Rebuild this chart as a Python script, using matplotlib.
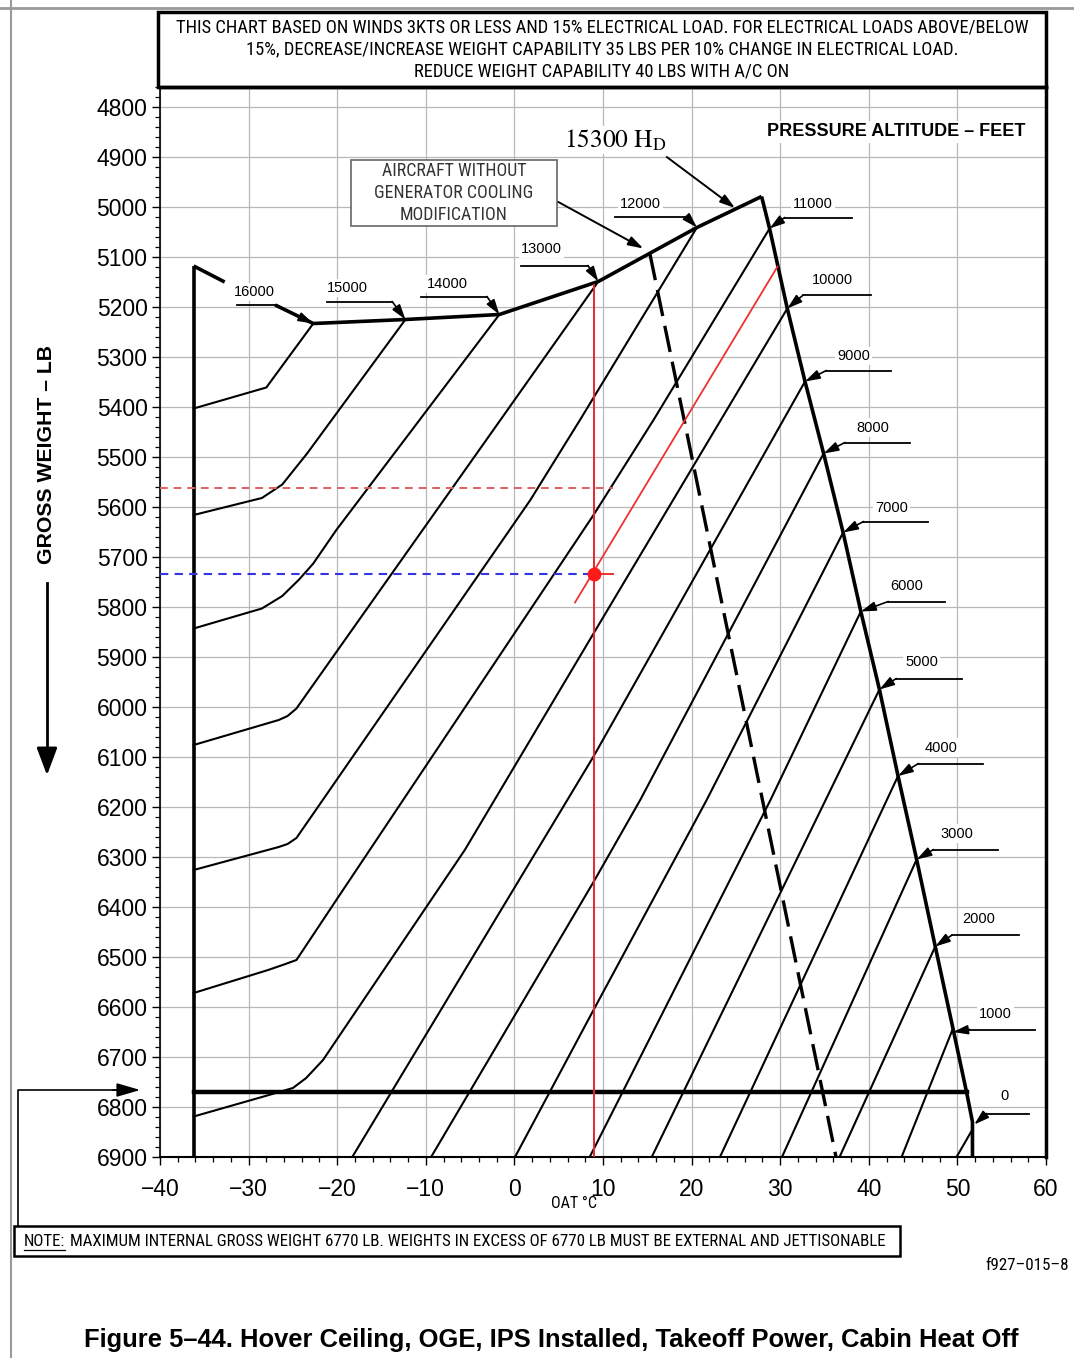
import matplotlib
matplotlib.use('Agg')
import matplotlib.pyplot as plt
from matplotlib import font_manager as fm
from matplotlib.patches import Rectangle, FancyArrowPatch
from matplotlib.lines import Line2D
from matplotlib.ticker import MultipleLocator

plt.rcParams['font.family'] = ['Liberation Sans', 'DejaVu Sans']

# pick a narrow sans face if one is installed
_fonts = {(f.name, f.stretch) for f in fm.fontManager.ttflist}
_names = {n for n, s in _fonts}
if 'Liberation Sans Narrow' in _names:
    NARROW = dict(family='Liberation Sans Narrow')
elif 'Roboto Condensed' in _names:
    NARROW = dict(family='Roboto Condensed')
elif ('DejaVu Sans', 'condensed') in _fonts:
    NARROW = dict(family='DejaVu Sans', stretch='condensed')
else:
    NARROW = dict(family='Liberation Sans')

# ---------------- data (OAT in deg C, gross weight in lb) ----------------
x_ticks = list(range(-40, 61, 10))
y_ticks = list(range(4800, 6901, 100))

altitudes = [16000, 15000, 14000, 13000, 12000, 11000, 10000, 9000, 8000,
             7000, 6000, 5000, 4000, 3000, 2000, 1000, 0]

oat_16000 = [-22.7, -28.0, -36.2]
gw_16000 = [5233, 5361, 5403]
oat_15000 = [-12.3, -23.4, -26.2, -28.5, -36.2]
gw_15000 = [5225, 5493, 5555, 5582, 5616]
oat_14000 = [-1.7, -20.1, -22.7, -24.3, -26.2, -28.5, -36.2]
gw_14000 = [5215, 5646, 5713, 5745, 5778, 5803, 5843]
oat_13000 = [9.47, -24.6, -25.6, -26.6, -36.2]
gw_13000 = [5149, 6003, 6018, 6026, 6076]
oat_12000 = [20.6, 7.4, 1.8, -24.6, -25.6, -26.6, -36.2]
gw_12000 = [5041, 5426, 5586, 6262, 6274, 6280, 6326]
oat_11000 = [28.8, 15.7, 8.93, -20.1, -24.6, -26.0, -27.8, -36.2]
gw_11000 = [5043, 5426, 5616, 6386, 6506, 6515, 6526, 6572]
oat_10000 = [30.8, 8.93, -5.6, -21.6, -23.5, -25.0, -28.1, -36.2]
gw_10000 = [5203, 5853, 6286, 6706, 6742, 6762, 6778, 6819]
oat_9000 = [32.8, 8.93, -18.3]
gw_9000 = [5349, 6099, 6900]
oat_8000 = [34.9, 14.2, 8.93, -9.4]
gw_8000 = [5493, 6186, 6350, 6900]
oat_7000 = [37.1, 21.7, 8.93, 0.07]
gw_7000 = [5651, 6186, 6606, 6900]
oat_6000 = [39.1, 28.9, 8.5]
gw_6000 = [5809, 6186, 6900]
oat_5000 = [41.2, 15.5]
gw_5000 = [5965, 6900]
oat_4000 = [43.3, 23.2]
gw_4000 = [6138, 6900]
oat_3000 = [45.4, 30.2]
gw_3000 = [6305, 6900]
oat_2000 = [47.5, 36.7]
gw_2000 = [6479, 6900]
oat_1000 = [49.5, 43.7]
gw_1000 = [6643, 6900]
oat_0 = [51.7, 49.9]
gw_0 = [6845, 6900]

# limit lines
left_limit_oat = [-36.2, -36.2]
left_limit_gw = [5118, 6900]
stub_oat = [-36.2, -32.7]
stub_gw = [5118, 5150]
top_limit_oat = [-27.0, -22.7, -12.3, -1.7, 9.47, 20.6, 27.9]
top_limit_gw = [5196, 5233, 5225, 5215, 5149, 5041, 4979]
right_limit_oat = [27.9, 28.8, 30.8, 32.8, 34.9, 37.1, 39.1, 41.2, 43.3,
                   45.4, 47.5, 49.5, 51.1, 51.7, 51.7]
right_limit_gw = [4979, 5043, 5203, 5349, 5493, 5651, 5809, 5965, 6138,
                  6305, 6479, 6643, 6776, 6830, 6900]
max_internal_gw = 6770
max_internal_oat = [-36.2, 51.1]
no_mod_oat = [15.3, 36.3]
no_mod_gw = [5094, 6900]
peak_hd_oat, peak_hd_gw = 24.9, 5002

# worked example
ex_oat = 8.93
ex_top_gw = 5155
ex_gw = 5734
ex_tick_end = 11.1
ex_ref_gw = 5562
ex_diag_oat = [6.84, 29.7]
ex_diag_gw = [5791, 5119]

curves_oat = [oat_16000, oat_15000, oat_14000, oat_13000, oat_12000, oat_11000,
              oat_10000, oat_9000, oat_8000, oat_7000, oat_6000, oat_5000,
              oat_4000, oat_3000, oat_2000, oat_1000, oat_0]
curves_gw = [gw_16000, gw_15000, gw_14000, gw_13000, gw_12000, gw_11000,
             gw_10000, gw_9000, gw_8000, gw_7000, gw_6000, gw_5000,
             gw_4000, gw_3000, gw_2000, gw_1000, gw_0]

# label placement: text centre, leader line y, leader x-range, arrow target
lab_x = [-29.3, -18.9, -7.6, 3.1, 14.2, 33.7, 35.9, 38.3, 40.4, 42.6, 44.3,
         46.0, 48.2, 50.0, 52.4, 54.3, 55.3]
lab_y = [5170, 5162, 5154, 5084, 4993, 4993, 5145, 5298, 5441, 5601, 5759,
         5909, 6081, 6253, 6424, 6613, 6779]
lead_y = [5196, 5189, 5179, 5117, 5019, 5021, 5176, 5327, 5471, 5629, 5789,
          5943, 6113, 6285, 6456, 6645, 6813]
lead_x0 = [-31.3, -21.2, -10.5, 0.8, 11.4, 30.5, 32.6, 35.2, 37.3, 39.4, 42.2,
           43.1, 45.6, 47.3, 49.4, 51.4, 53.3]
lead_x1 = [-27.0, -13.8, -3.1, 8.3, 19.4, 38.1, 40.3, 42.5, 44.6, 46.7, 48.6,
           50.5, 52.9, 54.6, 57.0, 58.8, 58.1]
lead_to_gw = [5233, 5225, 5215, 5149, 5041, 5043, 5203, 5349, 5493, 5651, 5809,
              5965, 6138, 6305, 6479, 6650, 6835]
lead_to_oat = [-22.7, -12.3, -1.7, 9.47, 20.6, 28.8, 30.8, 32.8, 34.9, 37.1,
               39.1, 41.2, 43.3, 45.4, 47.5, 49.5, 51.9]

W, H = 1074, 1358


def fx(px):
    return px / W


def fy(py):
    return 1 - py / H


fig = plt.figure(figsize=(W / 100, H / 100), dpi=100)
renderer = fig.canvas.get_renderer()


def fit(t, size_px, along='width'):
    # scale a text so that its extent matches the reference
    bb = t.get_window_extent(renderer=renderer)
    cur = bb.width if along == 'width' else bb.height
    t.set_fontsize(t.get_fontsize() * size_px / cur)
    return t


ax = fig.add_axes([fx(160), fy(1157), (1046 - 160) / W, (1157 - 87) / H])
ax.set_xlim(-40, 60)
ax.set_ylim(6900, 4760)

ax.set_xticks(x_ticks)
ax.set_yticks(y_ticks)
ax.xaxis.set_minor_locator(MultipleLocator(2))
ax.yaxis.set_minor_locator(MultipleLocator(20))
ax.grid(True, which='major', color='#b8b8b8', lw=0.9, zorder=0)
ax.set_axisbelow(True)
ax.tick_params(which='major', labelsize=16.5, length=6, width=1, direction='out')
ax.tick_params(which='minor', length=3.5, width=0.9, direction='out')
ax.tick_params(axis='x', which='major', pad=9)
ax.tick_params(axis='y', which='major', pad=3)
ax.spines['left'].set_linewidth(1.2)
ax.spines['bottom'].set_linewidth(1.5)
ax.spines['right'].set_linewidth(2.5)
ax.spines['top'].set_linewidth(2.5)

# altitude curves
for oats, gws in zip(curves_oat, curves_gw):
    ax.plot(oats, gws, color='black', lw=1.5, zorder=3, solid_joinstyle='round')

# limits
heavy = dict(color='black', lw=2.6, zorder=4, solid_capstyle='butt')
ax.plot(left_limit_oat, left_limit_gw, **heavy)
ax.plot(stub_oat, stub_gw, **heavy)
ax.plot(top_limit_oat, top_limit_gw, **heavy)
ax.plot(right_limit_oat, right_limit_gw, **heavy)
ax.plot(max_internal_oat, [max_internal_gw] * 2, color='black', lw=3.2, zorder=4)
ax.plot(no_mod_oat, no_mod_gw, color='black', lw=2.4, dashes=(8, 3), zorder=4)

# worked example
ax.plot([ex_oat, ex_oat], [ex_top_gw, 6900], color='#e8262b', lw=1.4, zorder=5)
ax.plot(ex_diag_oat, ex_diag_gw, color='#f03030', lw=1.3, zorder=5)
ax.plot([-40, ex_tick_end], [ex_ref_gw, ex_ref_gw], color='#e06060', lw=1.4,
        dashes=(4, 3), zorder=5)
ax.plot([-40, ex_oat], [ex_gw, ex_gw], color='#3535e0', lw=1.5, dashes=(4, 3), zorder=5)
ax.plot([ex_oat, ex_tick_end], [ex_gw, ex_gw], color='#f03030', lw=1.4, zorder=5)
ax.plot([ex_oat], [ex_gw], 'o', color='#ff1a1a', ms=9, zorder=6)

# altitude labels with leaders
arrow_kw = dict(arrowstyle='-|>,head_length=0.9,head_width=0.28', color='black',
                lw=1.2, mutation_scale=10, shrinkA=0, shrinkB=0)
for i, alt in enumerate(altitudes):
    ax.text(lab_x[i], lab_y[i], str(alt), ha='center', va='center', fontsize=10.5,
            zorder=7, bbox=dict(fc='white', ec='none', pad=1.5))
    ax.plot([lead_x0[i], lead_x1[i]], [lead_y[i]] * 2, color='black', lw=1.3, zorder=7)
    start = lead_x1[i] if i < 5 else lead_x0[i]
    ax.annotate('', xy=(lead_to_oat[i], lead_to_gw[i]), xytext=(start, lead_y[i]),
                arrowprops=arrow_kw, zorder=7)

ax.text(57.7, 4850, 'PRESSURE ALTITUDE \u2013 FEET', ha='right', va='center',
        fontsize=13, fontweight='bold', zorder=7,
        bbox=dict(fc='white', ec='none', pad=2))
t_hd = ax.text(11.35, 4866, r'$\mathrm{15300\ H_D}$', math_fontfamily='stix', ha='center',
               va='center', fontsize=21, zorder=7, bbox=dict(fc='white', ec='none', pad=1))
fit(t_hd, 102)
ax.annotate('', xy=(peak_hd_oat, peak_hd_gw), xytext=(17.2, 4900),
            arrowprops=dict(arrow_kw, lw=1.4), zorder=7)

ax.add_patch(Rectangle((-18.44, 4906), 23.25, 132, fc='white', ec='#666666', lw=1.2,
                       zorder=7))
t_box = ax.text(-6.82, 4972, 'AIRCRAFT WITHOUT\nGENERATOR COOLING\nMODIFICATION',
                ha='center', va='center', fontsize=12, color='#333333',
                linespacing=1.25, zorder=8, **NARROW)
fit(t_box, 158)
ax.annotate('', xy=(14.55, 5083), xytext=(4.96, 4990), arrowprops=dict(arrow_kw, lw=1.4),
            zorder=7)

# header box
fig.add_artist(Rectangle((fx(158), fy(87)), (1046 - 158) / W, (87 - 12) / H,
                         transform=fig.transFigure, fill=False, ec='black', lw=2.5))
header = ['THIS CHART BASED ON WINDS 3KTS OR LESS AND 15% ELECTRICAL LOAD. FOR ELECTRICAL LOADS ABOVE/BELOW',
          '15%, DECREASE/INCREASE WEIGHT CAPABILITY 35 LBS PER 10% CHANGE IN ELECTRICAL LOAD.',
          'REDUCE WEIGHT CAPABILITY 40 LBS WITH A/C ON']
h_texts = [fig.text(fx(602), fy(py), line, ha='center', va='center', fontsize=12.5, **NARROW)
           for line, py in zip(header, [27, 49, 71])]
fit(h_texts[0], 860)
for t in h_texts[1:]:
    t.set_fontsize(h_texts[0].get_fontsize())

# axis titles
t_yl = fig.text(fx(47), fy(455), 'GROSS WEIGHT \u2013 LB', rotation=90, ha='center',
                va='center', fontsize=14, fontweight='bold')
fit(t_yl, 220, along='height')
fig.add_artist(Line2D([fx(47), fx(47)], [fy(583), fy(760)], transform=fig.transFigure,
                      color='black', lw=2))
fig.patches.append(FancyArrowPatch(
    (fx(47), fy(745)), (fx(47), fy(778)), transform=fig.transFigure,
    arrowstyle='-|>,head_length=1.2,head_width=0.45', mutation_scale=14,
    color='black', lw=2))
t_oat = fig.text(fx(574), fy(1203), 'OAT \u00b0C', ha='center', va='center',
                 fontsize=11.5, **NARROW)
fit(t_oat, 46)

# note box with arrow to the 6770 lb weight
fig.add_artist(Rectangle((fx(14), fy(1256)), (900 - 14) / W, 30 / H,
                         transform=fig.transFigure, fill=False, ec='black', lw=1.8))
fig.add_artist(Line2D([fx(18), fx(18), fx(120)], [fy(1226), fy(1090), fy(1090)],
                      transform=fig.transFigure, color='black', lw=1.2))
fig.patches.append(FancyArrowPatch(
    (fx(110), fy(1090)), (fx(143), fy(1090)), transform=fig.transFigure,
    arrowstyle='-|>,head_length=1.2,head_width=0.35', mutation_scale=12,
    color='black', lw=1.2))
note_rest = ('MAXIMUM INTERNAL GROSS WEIGHT 6770 LB. WEIGHTS IN EXCESS OF 6770 LB '
             'MUST BE EXTERNAL AND JETTISONABLE')
probe = fig.text(fx(24), fy(1241), 'NOTE: ' + note_rest, fontsize=11.5, **NARROW)
fit(probe, 865)
note_size = probe.get_fontsize()
probe.remove()
t_note = fig.text(fx(24), fy(1241), 'NOTE:', ha='left', va='center', fontsize=note_size,
                  **NARROW)
bb = t_note.get_window_extent(renderer=renderer)
fig.add_artist(Line2D([bb.x0 / W, bb.x1 / W], [(bb.y0 - 1) / H] * 2,
                      transform=fig.transFigure, color='black', lw=0.9))
fig.text(bb.x1 / W + 0.004, fy(1241), note_rest, ha='left', va='center',
         fontsize=note_size, **NARROW)

t_id = fig.text(fx(985), fy(1265), 'f927\u2013015\u20138', ha='left', va='center',
                fontsize=11.5, **NARROW)
fit(t_id, 84)
t_cap = fig.text(fx(551), fy(1340),
                 'Figure 5\u201344. Hover Ceiling, OGE, IPS Installed, Takeoff Power, Cabin Heat Off',
                 ha='center', va='center', fontsize=15.5, fontweight='bold')
fit(t_cap, 934)

# page border
fig.add_artist(Line2D([fx(11), fx(11)], [0, 1], transform=fig.transFigure,
                      color='#9a9a9a', lw=1.5))
fig.add_artist(Line2D([0, 1], [fy(8), fy(8)], transform=fig.transFigure,
                      color='#9a9a9a', lw=2))

fig.savefig('out.png', dpi=100)
